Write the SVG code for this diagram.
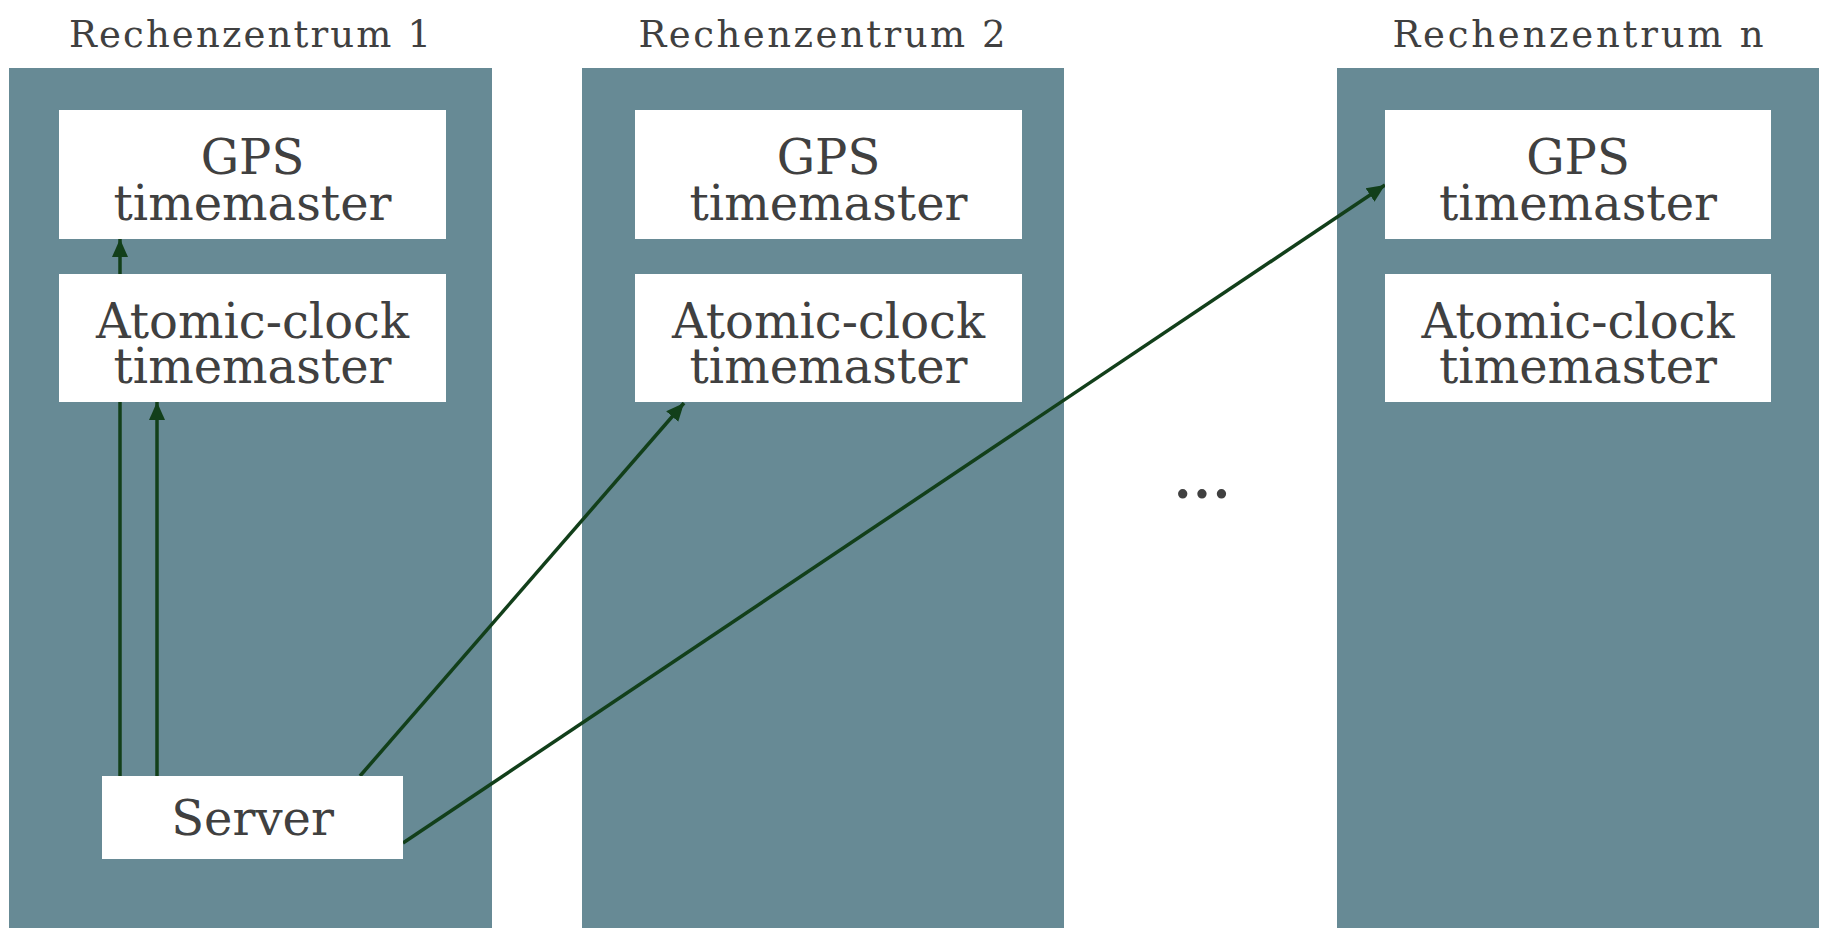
<svg xmlns="http://www.w3.org/2000/svg" width="1824" height="928" viewBox="0 0 1824 928">
<defs>
<style>
.panel{fill:#678a95}
.box{fill:#ffffff}
.t{font-family:"DejaVu Serif","Liberation Serif",serif;fill:#404040;text-anchor:middle}
.title{font-size:37px}
.lbl{font-size:48px}
.conn{stroke:#123f1a;stroke-width:3.5;fill:none;marker-end:url(#ah)}
</style>
<marker id="ah" markerUnits="userSpaceOnUse" markerWidth="20" markerHeight="20" viewBox="0 0 20 20" refX="18" refY="10" orient="auto">
<path d="M0,2 L18,10 L0,18 z" fill="#123f1a"/>
</marker>
</defs>
<rect width="1824" height="928" fill="#ffffff"/>
<g id="dc1">
<rect class="panel" x="9" y="68" width="483" height="860"/>
<text class="t title" x="250" y="47" textLength="362" lengthAdjust="spacing">Rechenzentrum 1</text>
</g>
<g id="dc2">
<rect class="panel" x="582" y="68" width="482" height="860"/>
<text class="t title" x="822" y="47" textLength="367" lengthAdjust="spacing">Rechenzentrum 2</text>
</g>
<g id="dcn">
<rect class="panel" x="1337" y="68" width="482" height="860"/>
<text class="t title" x="1578" y="47" textLength="371" lengthAdjust="spacing">Rechenzentrum n</text>
</g>
<g id="connectors">
<line class="conn" x1="120" y1="776" x2="120" y2="239"/>
<line class="conn" x1="157" y1="776" x2="157" y2="402"/>
<line class="conn" x1="360" y1="776" x2="684" y2="403"/>
<line class="conn" x1="403" y1="843" x2="1385" y2="185"/>
</g>
<g id="gps1">
<rect class="box" x="59" y="110" width="387" height="129"/>
<text class="t lbl" x="252.5" y="174">GPS<tspan x="252.5" dy="46">timemaster</tspan></text>
</g>
<g id="atomic1">
<rect class="box" x="59" y="274" width="387" height="128"/>
<text class="t lbl" x="252.5" y="338">Atomic-clock<tspan x="252.5" dy="45">timemaster</tspan></text>
</g>
<g id="gps2">
<rect class="box" x="635" y="110" width="387" height="129"/>
<text class="t lbl" x="828.5" y="174">GPS<tspan x="828.5" dy="46">timemaster</tspan></text>
</g>
<g id="atomic2">
<rect class="box" x="635" y="274" width="387" height="128"/>
<text class="t lbl" x="828.5" y="338">Atomic-clock<tspan x="828.5" dy="45">timemaster</tspan></text>
</g>
<g id="gpsn">
<rect class="box" x="1385" y="110" width="386" height="129"/>
<text class="t lbl" x="1578" y="174">GPS<tspan x="1578" dy="46">timemaster</tspan></text>
</g>
<g id="atomicn">
<rect class="box" x="1385" y="274" width="386" height="128"/>
<text class="t lbl" x="1578" y="338">Atomic-clock<tspan x="1578" dy="45">timemaster</tspan></text>
</g>
<g id="server">
<rect class="box" x="102" y="776" width="301" height="83"/>
<text class="t lbl" x="252.5" y="835">Server</text>
</g>
<g id="ellipsis">
<text class="t" x="1203" y="498" font-size="50" font-weight="bold" letter-spacing="2">...</text>
</g>
</svg>
